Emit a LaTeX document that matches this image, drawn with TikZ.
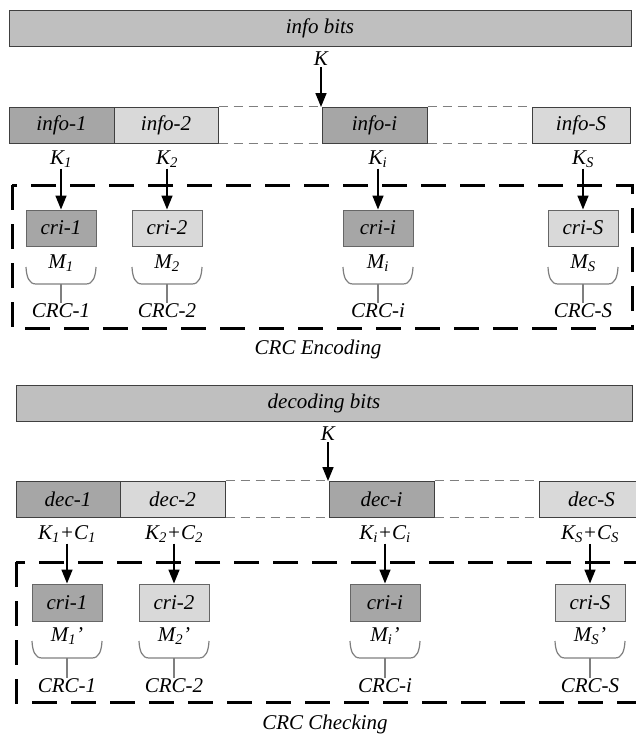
\documentclass[tikz,border=0pt]{standalone}
\usepackage{fontspec}
\setmainfont{Liberation Serif}
\usetikzlibrary{arrows.meta}
\definecolor{bargray}{HTML}{BFBFBF}
\definecolor{segdark}{HTML}{A6A6A6}
\definecolor{seglight}{HTML}{D9D9D9}
\definecolor{edgegray}{HTML}{404040}
\definecolor{bracegray}{HTML}{7F7F7F}
\begin{document}
\begin{tikzpicture}[x=1pt,y=-1pt,
  font=\fontsize{21}{24}\selectfont\itshape,
  barbox/.style={draw=edgegray, line width=1pt, fill=bargray, minimum height=36pt, inner sep=0pt},
  segbox/.style={draw=edgegray, line width=1pt, minimum height=36pt, inner sep=0pt},
  dark/.style={fill=segdark},
  light/.style={fill=seglight},
  cribox/.style={draw=edgegray!80, line width=1pt, minimum width=70pt, minimum height=36pt, inner sep=0pt},
  lab/.style={inner sep=1pt},
  arr/.style={line width=1.6pt, -{Triangle[length=14pt,width=11pt]}},
  gapline/.style={draw=bracegray, line width=1pt, dash pattern=on 9pt off 6pt},
  group/.style={draw=black, line width=3pt, dash pattern=on 25pt off 14pt},
  stem/.style={draw=bracegray, line width=1.2pt},
  crcbrace/.pic={
    \draw[bracegray, line width=1.2pt] (-35,0) .. controls (-34.5,10) and (-32,17) .. (-25,17)
      -- (25,17) .. controls (32,17) and (34.5,10) .. (35,0);
    \coordinate (-mid) at (0,17);
  }]
\useasboundingbox (0,0) rectangle (636,737);

% ---------------- CRC encoding ----------------
\node[barbox, minimum width=622pt] (info) at (320,28.5) {info bits};
\node[lab] (K) at (321,59) {K};
\coordinate (Kend) at (321,107);
\draw[arr] (K) -- (Kend);

\node[segbox, dark,  minimum width=105pt] (s1) at (61.5,125) {info-1};
\node[segbox, light, minimum width=104pt] (s2) at (166,125)  {info-2};
\node[segbox, dark,  minimum width=105pt] (si) at (374.5,125) {info-i};
\node[segbox, light, minimum width=98pt]  (sS) at (581,125)  {info-S};
\draw[gapline] (s2.north east) -- (si.north west);
\draw[gapline] (s2.south east) -- (si.south west);
\draw[gapline] (si.north east) -- (sS.north west);
\draw[gapline] (si.south east) -- (sS.south west);

\draw[group] (12,185) rectangle (632,328);

\foreach \n/\x/\k/\c/\m/\r/\f in {1/61/K\textsubscript{1}/cri-1/M\textsubscript{1}/CRC-1/dark,
                                  2/167/K\textsubscript{2}/cri-2/M\textsubscript{2}/CRC-2/light,
                                  i/378/K\textsubscript{i}/cri-i/M\textsubscript{i}/CRC-i/dark,
                                  S/583/K\textsubscript{S}/cri-S/M\textsubscript{S}/CRC-S/light}{
  \node[lab] (k\n) at (\x,159) {\k};
  \node[cribox, \f] (c\n) at (\x,228) {\c};
  \draw[arr] (k\n) -- (c\n);
  \node[lab] (m\n) at (\x,263) {\m};
  \pic (b\n) at (\x,267) {crcbrace};
  \node[lab] (r\n) at (\x,311) {\r};
  \draw[stem] (b\n-mid) -- (r\n);
}
\node[lab] (enc) at (318,349) {CRC Encoding};

% ---------------- CRC checking ----------------
\node[barbox, minimum width=616pt] (dec) at (324,403) {decoding bits};
\node[lab] (K2) at (328,434) {K};
\coordinate (K2end) at (328,481);
\draw[arr] (K2) -- (K2end);

\node[segbox, dark,  minimum width=104pt] (d1) at (68,499)    {dec-1};
\node[segbox, light, minimum width=105pt] (d2) at (172.5,499) {dec-2};
\node[segbox, dark,  minimum width=105pt] (di) at (381.5,499) {dec-i};
\node[segbox, light, minimum width=105pt] (dS) at (591.5,499) {dec-S};
\draw[gapline] (d2.north east) -- (di.north west);
\draw[gapline] (d2.south east) -- (di.south west);
\draw[gapline] (di.north east) -- (dS.north west);
\draw[gapline] (di.south east) -- (dS.south west);

\draw[group] (16,562) rectangle (641,702);

\foreach \n/\x/\k/\c/\m/\r/\f in {1/67/K\textsubscript{1}+C\textsubscript{1}/cri-1/M\textsubscript{1}'/CRC-1/dark,
                                  2/174/K\textsubscript{2}+C\textsubscript{2}/cri-2/M\textsubscript{2}'/CRC-2/light,
                                  i/385/K\textsubscript{i}+C\textsubscript{i}/cri-i/M\textsubscript{i}'/CRC-i/dark,
                                  S/590/K\textsubscript{S}+C\textsubscript{S}/cri-S/M\textsubscript{S}'/CRC-S/light}{
  \node[lab] (q\n) at (\x,534) {\k};
  \node[cribox, \f, minimum height=37pt] (e\n) at (\x,602.5) {\c};
  \draw[arr] (q\n) -- (e\n);
  \node[lab] (p\n) at (\x,636) {\m};
  \pic (g\n) at (\x,641) {crcbrace};
  \node[lab] (t\n) at (\x,686) {\r};
  \draw[stem] (g\n-mid) -- (t\n);
}
\node[lab] (chk) at (325,724) {CRC Checking};
\end{tikzpicture}
\end{document}
